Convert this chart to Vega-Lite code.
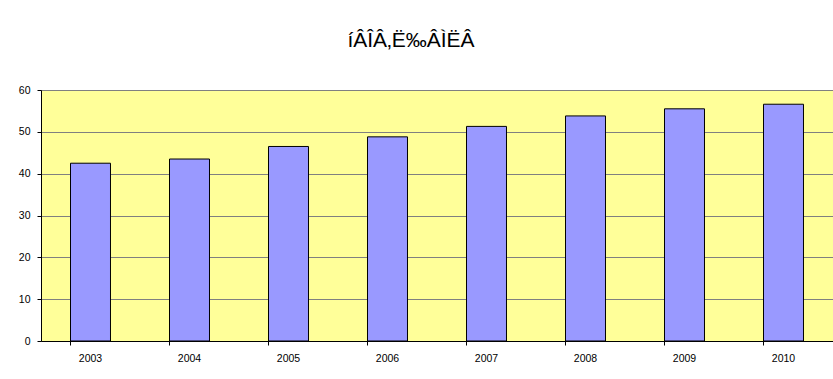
{
  "$schema": "https://vega.github.io/schema/vega-lite/v6.json",
  "autosize": "none",
  "padding": {"left": 41, "top": 90, "right": 0, "bottom": 38},
  "width": 792,
  "height": 251,
  "background": "white",
  "title": {
    "text": "íÂÎÂ‚Ë‰ÂÌËÂ",
    "font": "Liberation Sans",
    "fontSize": 21,
    "fontWeight": "normal",
    "color": "black",
    "anchor": "middle",
    "offset": 34,
    "dx": -26
  },
  "data": {
    "values": [
      {"year": "2003", "value": 42.5},
      {"year": "2004", "value": 43.5},
      {"year": "2005", "value": 46.5},
      {"year": "2006", "value": 48.8},
      {"year": "2007", "value": 51.3},
      {"year": "2008", "value": 53.8},
      {"year": "2009", "value": 55.5},
      {"year": "2010", "value": 56.6}
    ]
  },
  "mark": {"type": "bar", "color": "#9999FF", "stroke": "black", "strokeWidth": 1},
  "encoding": {
    "x": {
      "field": "year",
      "type": "ordinal",
      "scale": {"paddingInner": 0.596, "paddingOuter": 0.298},
      "axis": {
        "title": null,
        "labelAngle": 0,
        "bandPosition": 0,
        "ticks": true,
        "tickSize": 4,
        "tickColor": "black",
        "domainColor": "black",
        "labelPadding": 8,
        "labelFont": "Liberation Sans",
        "labelFontSize": 10.5,
        "labelColor": "black",
        "grid": false
      }
    },
    "y": {
      "field": "value",
      "type": "quantitative",
      "scale": {"domain": [0, 60], "nice": false},
      "axis": {
        "title": null,
        "values": [0, 10, 20, 30, 40, 50, 60],
        "tickSize": 4,
        "tickColor": "black",
        "domainColor": "black",
        "labelPadding": 7,
        "labelFont": "Liberation Sans",
        "labelFontSize": 10.5,
        "labelColor": "black",
        "grid": true,
        "gridColor": "#808080",
        "gridOpacity": 1,
        "gridWidth": 1
      }
    }
  },
  "config": {
    "view": {"fill": "#FFFF99", "stroke": "#808080", "strokeWidth": 1}
  }
}
